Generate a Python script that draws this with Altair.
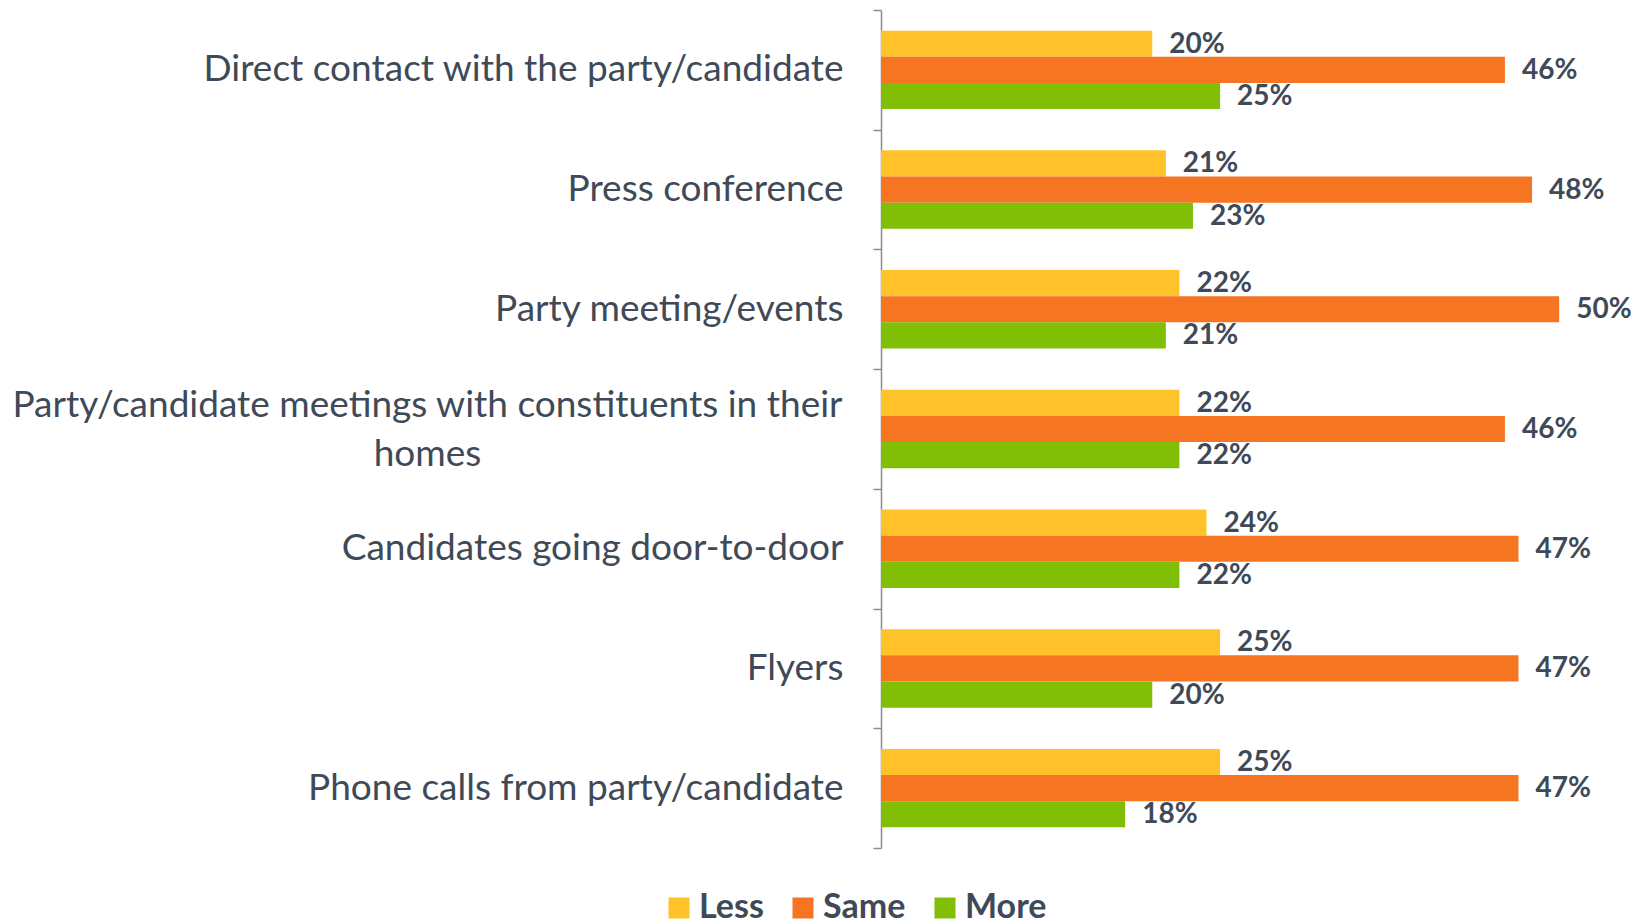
import altair as alt
import pandas as pd

categories = [
    "Direct contact with the party/candidate",
    "Press conference",
    "Party meeting/events",
    "Party/candidate meetings with constituents in their|homes",
    "Candidates going door-to-door",
    "Flyers",
    "Phone calls from party/candidate",
]
series = ["Less", "Same", "More"]
less = [20, 21, 22, 22, 24, 25, 25]
same = [46, 48, 50, 46, 47, 47, 47]
more = [25, 23, 21, 22, 22, 20, 18]
colors = ["#FFC22B", "#F57522", "#80BF06"]

rows = []
for i, c in enumerate(categories):
    for s, vals in zip(series, [less, same, more]):
        rows.append({"category": c, "series": s, "value": vals[i],
                     "label": f"{vals[i]}%"})
df = pd.DataFrame(rows)

TXT = "#3F4A58"
FONT = "Lato"
MULTI = "indexof(datum.label, '|') >= 0"

y_enc = alt.Y("category:N", sort=categories, title=None,
              scale=alt.Scale(paddingInner=0, paddingOuter=0),
              axis=alt.Axis(labelExpr="split(datum.label, '|')",
                            labelFontSize=37, labelFont=FONT, labelColor=TXT,
                            labelLineHeight=49,
                            labelAlign={"condition": {"test": MULTI, "value": "center"},
                                        "value": "right"},
                            labelPadding={"condition": {"test": MULTI, "value": 446},
                                          "value": 30},
                            labelOffset={"condition": {"test": MULTI, "value": -24},
                                         "value": 0},
                            labelLimit=1000,
                            tickBand="extent", tickSize=8, tickColor="#8C8C8C",
                            tickWidth=1.5, domainColor="#8C8C8C", domainWidth=1.5,
                            grid=False))
yoff_enc = alt.YOffset("series:N", sort=series,
                       scale=alt.Scale(paddingOuter=0.79, paddingInner=0))
x_enc = alt.X("value:Q", scale=alt.Scale(domain=[0, 55]), axis=None)

bars = alt.Chart(df).mark_bar().encode(
    y=y_enc, yOffset=yoff_enc, x=x_enc,
    color=alt.Color("series:N", sort=series,
                    scale=alt.Scale(domain=series, range=colors),
                    legend=alt.Legend(title=None, orient="none",
                                      legendX=-219, legendY=881,
                                      direction="horizontal", columns=3,
                                      symbolType="square", symbolSize=441,
                                      symbolStrokeWidth=0,
                                      labelFontSize=34, labelFont=FONT,
                                      labelFontWeight="bold", labelColor=TXT,
                                      labelOffset=3, columnPadding=22)),
)

text = alt.Chart(df).mark_text(align="left", baseline="middle", dx=17, dy=1,
                               fontSize=28, font=FONT, fontWeight="bold",
                               color=TXT).encode(
    y=alt.Y("category:N", sort=categories), yOffset=alt.YOffset("series:N", sort=series),
    x="value:Q", text="label:N")

chart = (bars + text).properties(
    width=746, height=838,
    autosize=alt.AutoSizeParams(type="none"),
    padding={"left": 873, "top": 2, "right": 8, "bottom": 76},
).configure(background="white").configure_view(stroke=None, strokeWidth=0)

chart.save("out.html", embed_options={"renderer": "svg", "actions": False})
